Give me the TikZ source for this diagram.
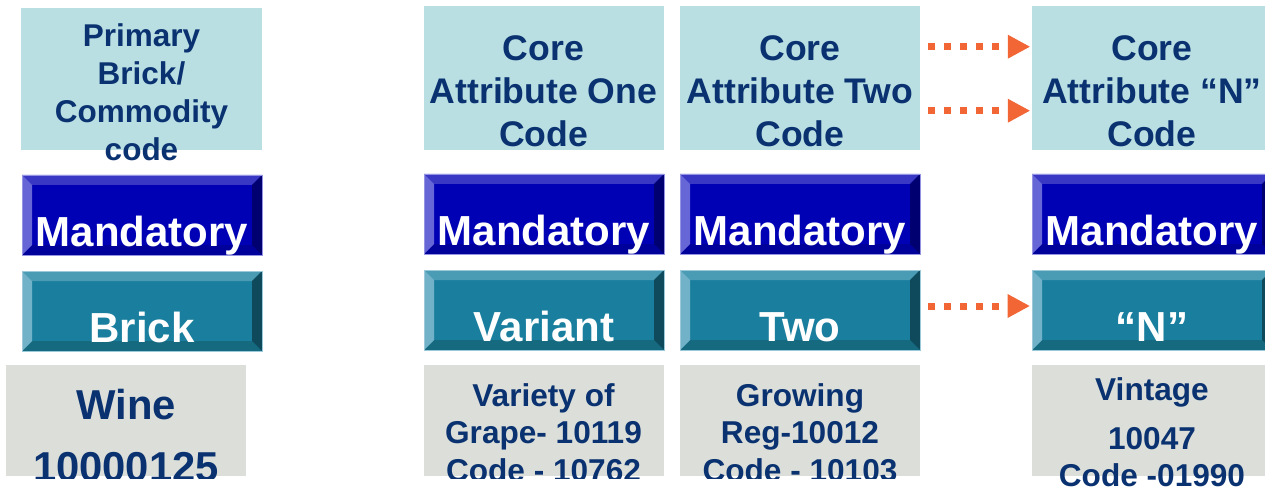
\documentclass[tikz,border=0pt]{standalone}
\usepackage{fontspec}
\setmainfont{Liberation Sans}
\usetikzlibrary{arrows.meta}
\definecolor{topfill}{HTML}{B9DFE3}
\definecolor{navy}{HTML}{0A3270}
\definecolor{grayfill}{HTML}{DCDFD9}
\definecolor{mface}{HTML}{0000B4}
\definecolor{mtop}{HTML}{3838C4}
\definecolor{mleft}{HTML}{6666D6}
\definecolor{mright}{HTML}{000070}
\definecolor{mbottom}{HTML}{00009A}
\definecolor{vface}{HTML}{1A7F9E}
\definecolor{vtop}{HTML}{4A9CB5}
\definecolor{vleft}{HTML}{72B2C8}
\definecolor{vright}{HTML}{0F4A5C}
\definecolor{vbottom}{HTML}{156A80}
\definecolor{arrowc}{HTML}{F26535}
\tikzset{
  bevelbtn/.style n args={5}{fill=#1, draw=#3!70!white, line width=0.8pt, minimum width=240pt, minimum height=80pt,
    inner sep=0pt, text height=71pt, text depth=9pt, text=white,
    font=\fontsize{42}{48}\selectfont\bfseries,
    path picture={
      \fill[#2] (path picture bounding box.north west) -- (path picture bounding box.north east)
        -- ([shift={(-10pt,-10pt)}]path picture bounding box.north east)
        -- ([shift={(10pt,-10pt)}]path picture bounding box.north west) -- cycle;
      \fill[#5] (path picture bounding box.south west) -- (path picture bounding box.south east)
        -- ([shift={(-10pt,10pt)}]path picture bounding box.south east)
        -- ([shift={(10pt,10pt)}]path picture bounding box.south west) -- cycle;
      \fill[#3] (path picture bounding box.north west) -- ([shift={(10pt,-10pt)}]path picture bounding box.north west)
        -- ([shift={(10pt,10pt)}]path picture bounding box.south west)
        -- (path picture bounding box.south west) -- cycle;
      \fill[#4] (path picture bounding box.north east) -- ([shift={(-10pt,-10pt)}]path picture bounding box.north east)
        -- ([shift={(-10pt,10pt)}]path picture bounding box.south east)
        -- (path picture bounding box.south east) -- cycle;
    }},
  mandbtn/.style={bevelbtn={mface}{mtop}{mleft}{mright}{mbottom}},
  varbtn/.style={bevelbtn={vface}{vtop}{vleft}{vright}{vbottom}},
  topbox/.style={fill=topfill, draw=none, minimum width=240pt, minimum height=144pt, inner sep=0pt},
  graybox/.style={fill=grayfill, draw=none, minimum width=240pt, minimum height=111pt, inner sep=0pt},
  labeltext/.style={text=navy, align=center, inner sep=0pt},
  coretext/.style={labeltext, font=\fontsize{35.6}{43}\selectfont\bfseries},
  smalltext/.style={labeltext, font=\fontsize{31.6}{37.5}\selectfont\bfseries},
  arr/.style={draw=arrowc, line width=7pt, dash pattern=on 7pt off 9pt,
    -{Triangle[length=22pt,width=24pt,line width=0pt,fill=arrowc]}},
}
\begin{document}
\begin{tikzpicture}[x=1pt,y=-1pt]
\useasboundingbox (0,0) rectangle (1265,489);
\clip (0,0) rectangle (1265,489);
% top boxes
\node[topbox, minimum width=241pt, minimum height=142pt] (t1) at (141.5,79) {};
\node[topbox] (t2) at (543.5,78) {};
\node[topbox] (t3) at (800,78) {};
\node[topbox] (t4) at (1152,78) {};
\node[labeltext, font=\fontsize{31.5}{38}\selectfont\bfseries] (t1text) at (141.5,92.5) {Primary\\Brick/\\Commodity\\code};
\node[coretext] (t2text) at (543.5,91) {Core\\Attribute One\\Code};
\node[coretext] (t3text) at (800,91) {Core\\Attribute Two\\Code};
\node[coretext] (t4text) at (1152,91) {Core\\Attribute “N”\\Code};
% buttons
\node[mandbtn] (m1) at (142,215) {Mandatory};
\node[mandbtn] (m2) at (544,214) {Mandatory};
\node[mandbtn] (m3) at (800,214) {Mandatory};
\node[mandbtn] (m4) at (1152,214) {Mandatory};
\node[varbtn] (v1) at (142,311) {Brick};
\node[varbtn] (v2) at (544,310) {Variant};
\node[varbtn] (v3) at (800,310) {Two};
\node[varbtn] (v4) at (1152,310) {“N”};
% gray boxes
\node[graybox] (g1) at (126,420.5) {};
\node[graybox] (g2) at (543.5,420.5) {};
\node[graybox] (g3) at (800,420.5) {};
\node[graybox] (g4) at (1152,420.5) {};
\begin{scope}
\clip (0,0) rectangle (1000,478);
\node[labeltext, font=\fontsize{41.8}{62}\selectfont\bfseries] (g1text) at (126,436) {Wine\\10000125};
\node[smalltext] (g2text) at (543.5,432.5) {Variety of\\Grape- 10119\\Code - 10762};
\node[smalltext] (g3text) at (800,432.5) {Growing\\Reg-10012\\Code - 10103};
\end{scope}
\node[labeltext, font=\fontsize{31.6}{37}\selectfont\bfseries] (g4text) at (1152,432) {Vintage\\[12pt]10047\\Code -01990};
% arrows
\coordinate (a1) at (0,46.7);
\coordinate (a2) at (0,110.7);
\coordinate (a3) at (0,306);
\draw[arr, shorten <=8pt, shorten >=2pt] (t3.east |- a1) -- (t4.west |- a1);
\draw[arr, shorten <=8pt, shorten >=2pt] (t3.east |- a2) -- (t4.west |- a2);
\draw[arr, shorten <=8pt, shorten >=2pt] (v3.east |- a3) -- (v4.west |- a3);
\end{tikzpicture}
\end{document}
